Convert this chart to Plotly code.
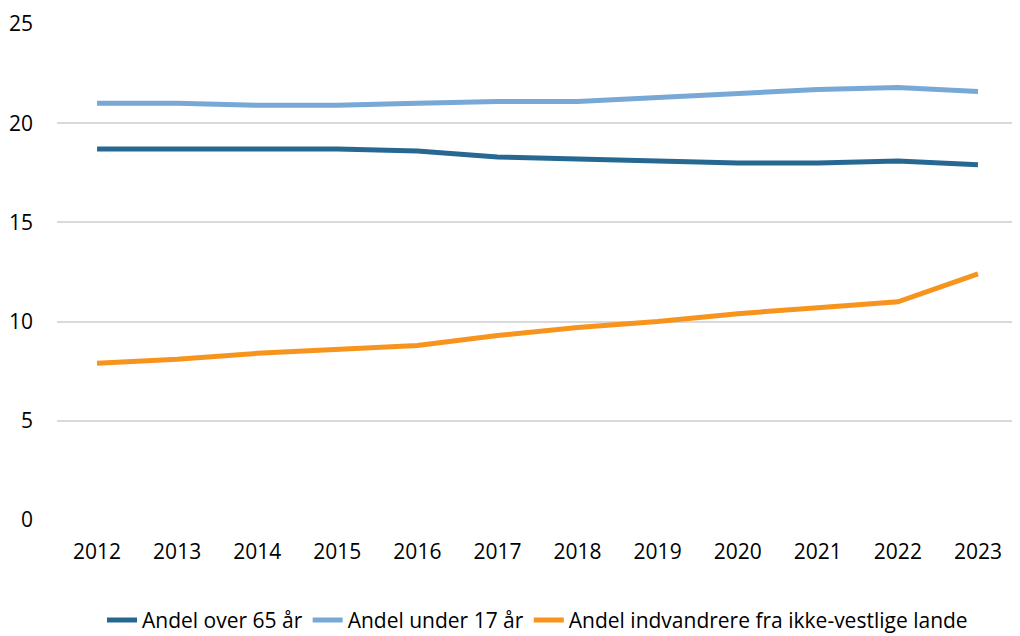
import plotly.graph_objects as go

years = ["2012", "2013", "2014", "2015", "2016", "2017", "2018", "2019", "2020", "2021", "2022", "2023"]
over65 = [18.7, 18.7, 18.7, 18.7, 18.6, 18.3, 18.2, 18.1, 18.0, 18.0, 18.1, 17.9]
under17 = [21.0, 21.0, 20.9, 20.9, 21.0, 21.1, 21.1, 21.3, 21.5, 21.7, 21.8, 21.6]
indvandrere = [7.9, 8.1, 8.4, 8.6, 8.8, 9.3, 9.7, 10.0, 10.4, 10.7, 11.0, 12.4]
names = ["Andel over 65 år", "Andel under 17 år", "Andel indvandrere fra ikke-vestlige lande"]
colors = ["#276892", "#78a8d6", "#f7941e"]
yticks = [0, 5, 10, 15, 20, 25]

fig = go.Figure()
for name, vals, col in zip(names, [over65, under17, indvandrere], colors):
    fig.add_trace(go.Scatter(x=years, y=vals, name=name, mode="lines",
                             line=dict(color=col, width=5)))

fig.update_layout(
    width=1012, height=628,
    margin=dict(l=49, r=2, t=16, b=116, autoexpand=False),
    paper_bgcolor="white", plot_bgcolor="white",
    font=dict(family="Open Sans", size=21, color="#000000"),
    showlegend=True,
    legend=dict(orientation="h", x=0.5, xanchor="center", yref="container",
                y=0.025, yanchor="middle",
                font=dict(size=21), tracegroupgap=0,
                bgcolor="rgba(0,0,0,0)"),
    xaxis=dict(type="category", range=[-0.5, 11.5], showgrid=False, showline=False,
               ticks="", ticklabelstandoff=17, zeroline=False),
    yaxis=dict(range=[0, 25], tickvals=yticks, showgrid=True, gridcolor="#d9d9d9",
               gridwidth=1.5, zeroline=False, showline=False, ticks="",
               ticklabelstandoff=23),
)

fig.write_html("out.html")
